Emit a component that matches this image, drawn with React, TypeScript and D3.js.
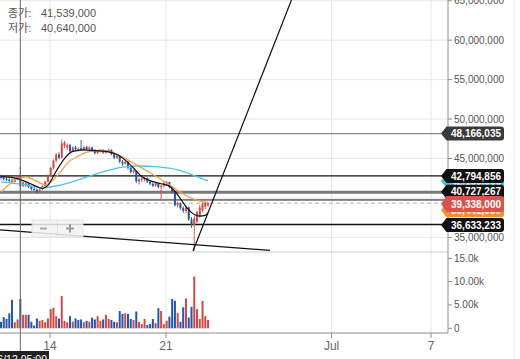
import React from 'react';
import * as d3 from 'd3';

// 4h candles starting 2021-06-11 01:00, prices in millions of KRW
const candleOpen = [
  42.75, 42.55, 42.4, 42.3, 42.2, 42.05, 42.45, 42.9, 41.54, 41.6,
  41.85, 41.4, 41.15, 41.05, 40.8, 41.15, 41.5, 42.05, 42.85, 43.8,
  44.75, 45.5, 45.1, 46.6, 46.4, 46.7, 45.9, 46.4, 46.15, 46.3,
  46.1, 46.45, 46.2, 46.4, 46.05, 45.7, 45.95, 46.1, 45.75, 45.95,
  46.1, 45.55, 45.1, 45.35, 44.6, 44.35, 44.6, 43.85, 43.3, 43.4,
  42.1, 42.35, 42.45, 42.55, 42.05, 41.8, 41.55, 41.85, 41.4, 41.55,
  41.9, 42.0, 41.35, 40.8, 39.1, 39.35, 38.7, 38.35, 38.8, 37.3,
  36.55, 37.0, 37.7, 38.4, 38.9, 39.05,
];
const candleHigh = [
  42.95, 42.8, 42.7, 42.6, 42.5, 42.55, 42.95, 43.95, 42.1, 42.0,
  41.95, 41.6, 41.35, 41.2, 41.2, 41.6, 42.2, 43.0, 43.95, 44.9,
  45.7, 45.8, 47.4, 47.25, 46.9, 46.85, 46.55, 46.6, 46.4, 47.35,
  46.55, 46.6, 46.55, 46.5, 46.2, 46.05, 46.2, 46.15, 46.05, 46.25,
  46.15, 45.65, 45.45, 45.4, 44.8, 44.75, 44.65, 44.0, 43.6, 43.45,
  42.55, 42.6, 42.7, 42.6, 42.2, 42.0, 42.0, 41.9, 41.7, 42.05,
  42.15, 42.05, 41.45, 40.95, 39.55, 39.45, 38.95, 39.0, 38.9, 37.6,
  37.7, 38.4, 39.1, 39.45, 39.55, 39.5,
];
const candleLow = [
  42.35, 42.2, 42.1, 41.95, 41.9, 41.95, 42.3, 40.64, 41.4, 41.35,
  41.25, 40.95, 40.9, 40.6, 40.65, 40.95, 41.4, 41.95, 42.7, 43.6,
  44.5, 44.9, 45.0, 46.3, 46.1, 45.7, 45.8, 46.0, 45.9, 45.95,
  45.95, 46.05, 46.0, 45.9, 45.5, 45.55, 45.75, 45.6, 45.6, 45.8,
  45.4, 44.9, 44.95, 44.4, 44.1, 44.2, 43.6, 43.1, 43.1, 41.9,
  41.7, 42.0, 42.1, 41.9, 41.6, 41.4, 41.45, 41.2, 39.85, 41.3,
  41.5, 41.2, 40.6, 38.9, 38.8, 38.5, 38.1, 38.1, 37.1, 36.2,
  33.3, 36.8, 37.5, 38.2, 38.6, 38.9,
];
const candleClose = [
  42.55, 42.4, 42.3, 42.2, 42.05, 42.45, 42.8, 41.539, 41.95, 41.85,
  41.4, 41.15, 41.05, 40.8, 41.05, 41.5, 42.05, 42.85, 43.8, 44.75,
  45.5, 45.1, 46.9, 47.05, 46.7, 45.9, 46.4, 46.15, 46.0, 46.1,
  46.45, 46.2, 46.4, 46.05, 45.7, 45.95, 46.1, 45.75, 45.95, 46.1,
  45.55, 45.1, 45.35, 44.6, 44.35, 44.6, 43.85, 43.3, 43.5, 42.1,
  42.35, 42.45, 42.55, 42.05, 41.8, 41.55, 41.85, 41.4, 41.55, 41.9,
  42.0, 41.35, 40.8, 39.1, 39.35, 38.7, 38.35, 38.8, 37.3, 36.55,
  37.4, 38.2, 38.8, 39.3, 39.4, 39.338,
];
// volume in thousands
const volumeK = [
  1.4, 2.4, 2.0, 3.2, 6.1, 1.3, 1.9, 6.3, 2.9, 2.9,
  2.9, 1.4, 0.6, 2.1, 1.6, 1.8, 1.3, 2.1, 4.1, 4.4,
  2.6, 2.1, 6.9, 1.6, 1.3, 2.6, 1.4, 2.1, 1.8, 1.9,
  1.3, 1.6, 1.4, 2.3, 1.9, 2.6, 1.6, 1.9, 2.9, 2.0,
  1.8, 1.4, 1.3, 3.7, 3.1, 3.2, 3.1, 2.0, 1.8, 3.6,
  1.4, 0.9, 2.0, 0.7, 0.9, 2.0, 1.1, 4.3, 3.7, 0.9,
  1.6, 2.5, 6.3, 5.9, 3.3, 1.4, 4.5, 6.4, 2.3, 4.6,
  11.1, 4.1, 2.0, 5.9, 2.6, 1.8,
];

// moving averages, [candle index, price in millions]
const maShort: [number, number][] = [
  [0, 42.7], [4, 42.6], [8, 42.2], [12, 41.6], [15, 41.2], [17, 41.6], [20, 43.4],
  [23, 45.0], [26, 45.9], [30, 46.1], [34, 46.0], [38, 45.9], [42, 45.5], [45, 44.8],
  [48, 43.8], [51, 42.7], [54, 42.2], [58, 41.8], [61, 41.5], [64, 40.4], [67, 38.9],
  [70, 37.9], [72, 37.7], [74, 37.8], [75, 38.1],
];
const maMid: [number, number][] = [
  [0, 40.76], [3, 41.7], [6, 42.45], [9, 42.66], [13, 42.1], [16, 41.65], [19, 42.3],
  [22, 43.5], [24, 44.4], [28, 45.3], [31, 45.8], [36, 46.05], [41, 45.7], [44, 45.2],
  [48, 44.4], [54, 43.2], [60, 41.9], [66, 40.5], [72, 39.6], [75, 39.441],
];
const maLong: [number, number][] = [
  [0, 42.03], [9, 41.65], [15, 41.3], [21, 41.6], [28, 42.3], [36, 43.2], [41, 43.7],
  [45, 43.93], [50, 44.05], [57, 43.93], [64, 43.55], [71, 42.7], [75, 42.16],
];

// drawn horizontal levels (millions)
const levels = [48.166035, 42.794856, 40.727267, 39.747, 36.633233];
// drawn trend lines: [date, price]
const trendUp: [Date, number][] = [[new Date(2021, 5, 22, 15, 12), 33.28], [new Date(2021, 5, 28, 19, 30), 66.36]];
const trendDown: [Date, number][] = [[new Date(2021, 5, 10, 12), 36.02], [new Date(2021, 5, 27, 6, 40), 33.35]];

const priceTicks = [35, 40, 45, 50, 55, 60, 65];
const volumeTicks = [0, 5, 10, 15];
const volumeTickLabels = ['0', '5.00k', '10.00k', '15.0k'];
const dateTicks = [new Date(2021, 5, 14), new Date(2021, 5, 21), new Date(2021, 6, 1), new Date(2021, 6, 7)];
const dateTickLabels = ['14', '21', 'Jul', '7'];
const crossIndex = 7;
const crossLabel = '6/12 05:00';

const FONT = '"Liberation Sans", Arial, "Noto Sans CJK KR", sans-serif';
const RED = '#cc4b46';
const BLUE = '#2457aa';

const candleTime = (i: number) => new Date(2021, 5, 11, 1 + 4 * i);
const fmt = (v: number) => d3.format(',')(Math.round(v * 1e6));

export default function App() {
  const plotRight = 448;
  const priceBottom = 252;
  const axisY = 333;

  const x = d3.scaleTime().domain([new Date(2021, 5, 14), new Date(2021, 6, 7)]).range([50, 431]);
  const y = d3.scaleLinear().domain([35, 60]).range([237.4, 40.2]);
  const yv = d3.scaleLinear().domain([0, 15]).range([328.3, 258.3]);

  const maLine = d3.line<[number, number]>()
    .x(d => x(candleTime(d[0])))
    .y(d => y(d[1]))
    .curve(d3.curveMonotoneX);
  const trend = d3.line<[Date, number]>().x(d => x(d[0])).y(d => y(d[1]));

  const last = candleClose[candleClose.length - 1];
  const lastMid = maMid[maMid.length - 1][1];
  const lastLong = maLong[maLong.length - 1][1];

  const tag = (v: number, fill: string, key: string, shift = 0, hh = 7) => {
    const c = y(v) + shift;
    return (
      <g key={key}>
        <path
          d={`M441,${c} L446.5,${c - hh} H501 Q504,${c - hh} 504,${c - hh + 3} V${c + hh - 3} Q504,${c + hh} 501,${c + hh} H446.5 Z`}
          fill={fill}
        />
        <text x={451} y={c} dy="0.36em" fill="#fff" fontSize={10} fontWeight="bold">{fmt(v)}</text>
      </g>
    );
  };

  const crossX = x(candleTime(crossIndex));

  return (
    <svg width={520} height={359} style={{ position: 'fixed', left: 0, top: 0, background: '#fff' }} fontFamily={FONT}>
      <defs>
        <clipPath id="pricePanel"><rect x={0} y={0} width={plotRight} height={priceBottom} /></clipPath>
        <clipPath id="volPanel"><rect x={0} y={priceBottom} width={plotRight} height={axisY - priceBottom} /></clipPath>
      </defs>

      {/* grid */}
      {priceTicks.map(t => (
        <line key={'g' + t} x1={0} x2={plotRight} y1={y(t)} y2={y(t)} stroke="#e6e6e6" />
      ))}
      {dateTicks.map((d, i) => (
        <line key={'v' + i} x1={x(d)} x2={x(d)} y1={0} y2={axisY} stroke="#e6e6e6" />
      ))}
      <line x1={514} x2={514} y1={0} y2={359} stroke="#e8e8e8" />
      <line x1={0} x2={plotRight} y1={priceBottom} y2={priceBottom} stroke="#cfcfcf" />

      {/* legend */}
      <g fontSize={11} fill="#555">
        <text x={8} y={17}>종가:</text>
        <text x={41} y={17}>{fmt(candleClose[crossIndex])}</text>
        <text x={8} y={32}>저가:</text>
        <text x={41} y={32}>{fmt(candleLow[crossIndex])}</text>
      </g>

      <g clipPath="url(#pricePanel)">
        {/* horizontal levels */}
        <line x1={0} x2={plotRight} y1={y(levels[0])} y2={y(levels[0])} stroke="#8a8a8a" strokeWidth={1.3} />
        <line x1={0} x2={plotRight} y1={y(levels[1])} y2={y(levels[1])} stroke="#111" strokeWidth={1.3} />
        <line x1={0} x2={plotRight} y1={y(levels[2])} y2={y(levels[2])} stroke="#7a7a7a" strokeWidth={3} />
        <line x1={0} x2={plotRight} y1={y(levels[3])} y2={y(levels[3])} stroke="#111" strokeWidth={1} />
        <line x1={0} x2={plotRight} y1={y(levels[4])} y2={y(levels[4])} stroke="#111" strokeWidth={1.3} />
        <line x1={0} x2={plotRight} y1={y(last)} y2={y(last)} stroke="#dba1a0" strokeWidth={1} strokeDasharray="4,3" />

        {/* candles */}
        {candleOpen.map((o, i) => {
          const c = candleClose[i];
          const cx = x(candleTime(i));
          const col = c >= o ? RED : BLUE;
          const top = y(Math.max(o, c));
          const h = Math.max(1, y(Math.min(o, c)) - top);
          return (
            <g key={'c' + i}>
              <line x1={cx} x2={cx} y1={y(candleHigh[i])} y2={y(candleLow[i])} stroke={col} strokeWidth={0.9} />
              <rect x={cx - 1} y={top} width={2} height={h} fill={col} />
            </g>
          );
        })}

        {/* moving averages */}
        <path d={maLine(maLong) || ''} fill="none" stroke="#4ec4e4" strokeWidth={1.3} />
        <path d={maLine(maMid) || ''} fill="none" stroke="#f2a153" strokeWidth={1.3} />
        <path d={maLine(maShort) || ''} fill="none" stroke="#111" strokeWidth={1.2} />

        {/* trend lines */}
        <path d={trend(trendUp) || ''} fill="none" stroke="#111" strokeWidth={1.2} />
        <path d={trend(trendDown) || ''} fill="none" stroke="#111" strokeWidth={1.2} />

        {/* zoom buttons */}
        <g opacity={0.85}>
          <rect x={32} y={220} width={51} height={17} fill="#f3f3f3" stroke="#e0e0e0" />
          <line x1={57.5} x2={57.5} y1={220} y2={237} stroke="#e0e0e0" />
          <line x1={40} x2={47} y1={228.5} y2={228.5} stroke="#9a9a9a" strokeWidth={2} />
          <line x1={66} x2={74} y1={228.5} y2={228.5} stroke="#8a8a8a" strokeWidth={2} />
          <line x1={70} x2={70} y1={224.5} y2={232.5} stroke="#8a8a8a" strokeWidth={2} />
        </g>
      </g>

      {/* volume */}
      <g clipPath="url(#volPanel)">
        {volumeK.map((v, i) => {
          const cx = x(candleTime(i));
          const col = candleClose[i] >= candleOpen[i] ? RED : BLUE;
          return <rect key={'vb' + i} x={cx - 1} y={yv(v)} width={2} height={yv(0) - yv(v)} fill={col} />;
        })}
      </g>

      {/* crosshair */}
      <line x1={crossX} x2={crossX} y1={0} y2={352} stroke="#666" strokeWidth={1} />

      {/* axes */}
      <line x1={plotRight} x2={plotRight} y1={0} y2={axisY} stroke="#8c8c8c" />
      <line x1={0} x2={plotRight} y1={axisY} y2={axisY} stroke="#8c8c8c" />
      {priceTicks.map(t => (
        <g key={'pt' + t}>
          <line x1={plotRight} x2={plotRight + 4} y1={y(t)} y2={y(t)} stroke="#8c8c8c" />
          <text x={454} y={y(t)} dy="0.35em" fontSize={10} fill="#555">{fmt(t)}</text>
        </g>
      ))}
      {volumeTicks.map((t, i) => (
        <g key={'vt' + t}>
          <line x1={plotRight} x2={plotRight + 4} y1={yv(t)} y2={yv(t)} stroke="#8c8c8c" />
          <text x={454} y={yv(t)} dy="0.35em" fontSize={10} fill="#555">{volumeTickLabels[i]}</text>
        </g>
      ))}
      {dateTicks.map((d, i) => (
        <g key={'dt' + i}>
          <line x1={x(d)} x2={x(d)} y1={axisY} y2={axisY + 5} stroke="#8c8c8c" />
          <text x={x(d)} y={350} textAnchor="middle" fontSize={12} fill="#666">{dateTickLabels[i]}</text>
        </g>
      ))}

      {/* price tags */}
      {tag(levels[0], '#3a3a3a', 't0')}
      {tag(lastLong, '#3fc3e6', 't1')}
      {tag(levels[1], '#111', 't2')}
      {tag(levels[2], '#111', 't3', -0.5)}
      {tag(lastMid, '#f0922b', 't4', y(last) + 7 - y(lastMid))}
      {tag(last, '#d9544c', 't5', 0.8, 8)}
      {tag(levels[4], '#111', 't6', 0.5)}

      {/* crosshair date label */}
      <rect x={-20} y={351} width={69} height={16} fill="#222" />
      <text x={47} y={362.5} textAnchor="end" fontSize={10.5} fill="#fff">{crossLabel}</text>
    </svg>
  );
}
